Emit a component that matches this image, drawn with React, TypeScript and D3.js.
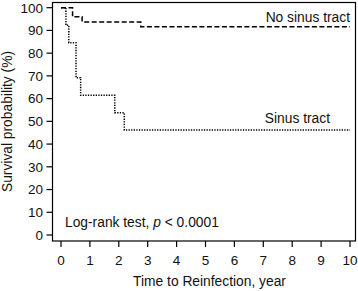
import React from "react";
import * as d3 from "d3";

const xTicks = [0, 1, 2, 3, 4, 5, 6, 7, 8, 9, 10];
const yTicks = [0, 10, 20, 30, 40, 50, 60, 70, 80, 90, 100];
const noSinusTimes = [0, 0.4, 0.73, 2.76];
const noSinusSurv = [100, 96, 93.7, 91.6];
const sinusTimes = [0, 0.17, 0.27, 0.52, 0.68, 1.86, 2.19];
const sinusSurv = [100, 92.3, 84.6, 69.2, 61.5, 53.8, 46.2];
const maxTime = 10;

const W = 358;
const H = 291;
const FONT = "'Liberation Sans', Arial, sans-serif";

export default function App() {
  const x = d3.scaleLinear().domain([0, 10]).range([61, 350]);
  const y = d3.scaleLinear().domain([0, 100]).range([235, 7.7]);
  const box = { l: 52.5, r: 355.5, t: 2.5, b: 241 };

  const mk = (ts: number[], ss: number[]) => {
    const pts: [number, number][] = ts.map((t, i) => [t, ss[i]]);
    pts.push([maxTime, ss[ss.length - 1]]);
    return d3
      .line<[number, number]>()
      .x((d) => x(d[0]))
      .y((d) => y(d[1]))
      .curve(d3.curveStepAfter)(pts) as string;
  };

  return (
    <svg
      width={W}
      height={H}
      style={{ position: "absolute", left: 0, top: 0, background: "#fff" }}
      fontFamily={FONT}
    >
      <rect x={0} y={0} width={W} height={H} fill="#fff" />
      <rect
        x={box.l}
        y={box.t}
        width={box.r - box.l}
        height={box.b - box.t}
        fill="none"
        stroke="#000"
        strokeWidth={1.2}
      />
      {yTicks.map((v) => (
        <g key={"y" + v}>
          <line x1={box.l - 6} x2={box.l} y1={y(v)} y2={y(v)} stroke="#000" strokeWidth={1.2} />
          <text x={43} y={y(v) + 4.8} textAnchor="end" fontSize={13.5} fill="#111">
            {v}
          </text>
        </g>
      ))}
      {xTicks.map((v) => (
        <g key={"x" + v}>
          <line x1={x(v)} x2={x(v)} y1={box.b} y2={box.b + 6} stroke="#000" strokeWidth={1.2} />
          <text x={x(v)} y={265} textAnchor="middle" fontSize={13.5} fill="#111">
            {v}
          </text>
        </g>
      ))}
      <path d={mk(noSinusTimes, noSinusSurv)} fill="none" stroke="#000" strokeWidth={1.5} strokeDasharray="5,2.5" />
      <path d={mk(sinusTimes, sinusSurv)} fill="none" stroke="#000" strokeWidth={1.5} strokeDasharray="1.3,1.3" />
      <text x={350} y={22} textAnchor="end" fontSize={13.8} fill="#111">
        No sinus tract
      </text>
      <text x={330} y={123.3} textAnchor="end" fontSize={13.8} fill="#111">
        Sinus tract
      </text>
      <text x={65} y={227.3} fontSize={13.8} fill="#111">
        Log-rank test, <tspan fontStyle="italic">p</tspan> {"< 0.0001"}
      </text>
      <text x={209.5} y={285.5} textAnchor="middle" fontSize={13.8} fill="#111">
        Time to Reinfection, year
      </text>
      <text
        transform={`translate(11.5, 121.5) rotate(-90)`}
        textAnchor="middle"
        fontSize={13.8}
        fill="#111"
      >
        Survival probability (%)
      </text>
    </svg>
  );
}
